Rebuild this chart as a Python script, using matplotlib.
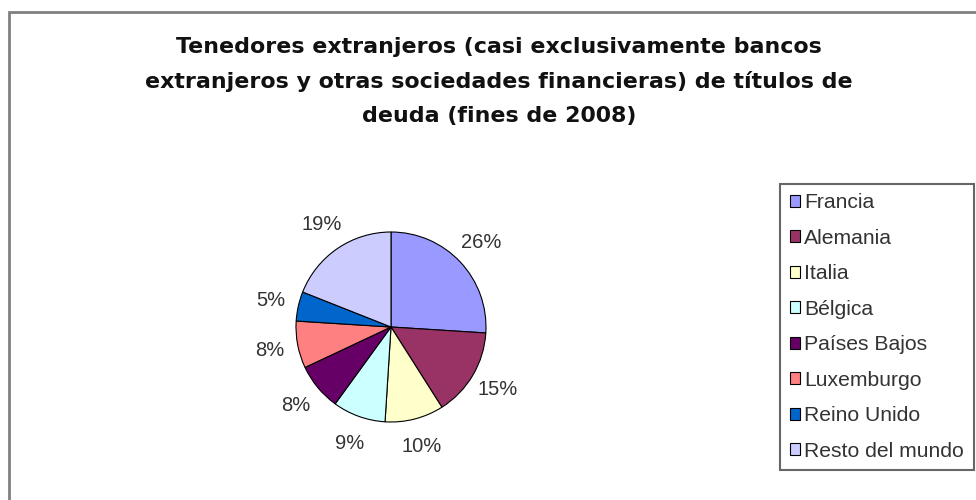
import matplotlib
matplotlib.use("Agg")
from matplotlib import pyplot as plt
from matplotlib.patches import Rectangle

# data
paises = ["Francia", "Alemania", "Italia", "Bélgica", "Países Bajos",
          "Luxemburgo", "Reino Unido", "Resto del mundo"]
porcentajes = [26, 15, 10, 9, 8, 8, 5, 19]
colores = ["#9999FF", "#993366", "#FFFFCC", "#CCFFFF", "#660066",
           "#FF8080", "#0066CC", "#CCCCFF"]
titulo = ["Tenedores extranjeros (casi exclusivamente bancos",
          "extranjeros y otras sociedades financieras) de títulos de",
          "deuda (fines de 2008)"]

W, H = 976, 500
fig = plt.figure(figsize=(W / 100, H / 100), dpi=100)

# outer chart border (runs off right and bottom edges)
fig.patches.append(Rectangle((9 / W, -0.05), 1.1, 1 - 12 / H + 0.05,
                             transform=fig.transFigure, fill=False,
                             edgecolor="#808080", linewidth=2))

# title, one line at a time
for i, linea in enumerate(titulo):
    fig.text(499 / W, 1 - (47 + 34.5 * i) / H, linea, ha="center",
             va="center", fontsize=15.9, fontweight="bold",
             family="DejaVu Sans", color="#111111")

# pie: center (391, 327), radius 95 px
cx, cy, r = 391, 327, 95
ax = fig.add_axes([(cx - r) / W, (H - cy - r) / H, 2 * r / W, 2 * r / H])
wedges, _, autotexts = ax.pie(
    porcentajes, colors=colores, startangle=90, counterclock=False,
    autopct="%1.0f%%", pctdistance=1.3, radius=1,
    wedgeprops=dict(edgecolor="black", linewidth=0.8),
    textprops=dict(fontsize=14.5, family="Liberation Sans", color="#333333"))
ax.set_xlim(-1, 1)
ax.set_ylim(-1, 1)
ax.axis("off")

leg = fig.legend(wedges, paises, loc="upper left",
                 bbox_to_anchor=(780 / W, 1 - 184 / H), borderaxespad=0,
                 fancybox=False, prop=dict(family="Liberation Sans", size=15.2),
                 handlelength=0.5, handleheight=0.5, handletextpad=0.2,
                 labelspacing=0.78, borderpad=0.45)
frame = leg.get_frame()
frame.set_edgecolor("#404040")
frame.set_linewidth(1.5)
for t in leg.get_texts():
    t.set_color("#333333")

fig.savefig("out.png", dpi=100)
